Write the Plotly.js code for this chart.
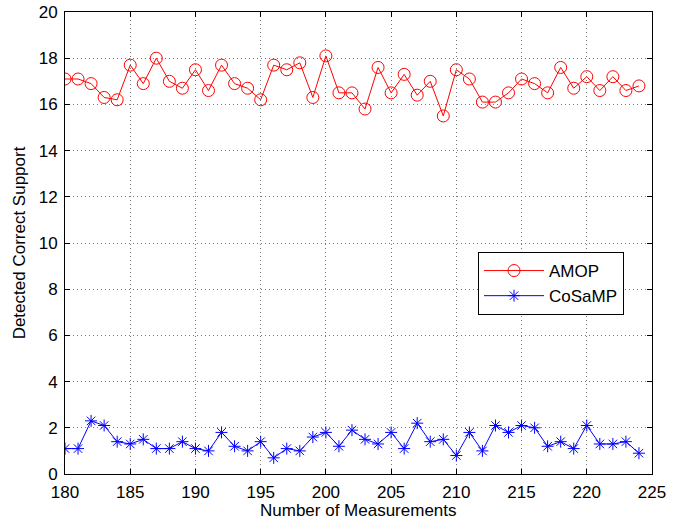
<!DOCTYPE html>
<html>
<head>
<meta charset="utf-8">
<script src="https://cdn.plot.ly/plotly-3.0.1.min.js"></script>
<style>html,body{margin:0;padding:0;background:#fff;}#chart{width:680px;height:519px;}</style>
</head>
<body>
<div id="chart"></div>
<script>
const measurements = [180,181,182,183,184,185,186,187,188,189,190,191,192,193,194,195,196,197,198,199,200,201,202,203,204,205,206,207,208,209,210,211,212,213,214,215,216,217,218,219,220,221,222,223,224];
const amop = [17.1,17.1,16.9,16.3,16.2,17.7,16.9,18.0,17.0,16.7,17.5,16.6,17.7,16.9,16.7,16.2,17.7,17.5,17.8,16.3,18.1,16.5,16.5,15.8,17.6,16.5,17.3,16.4,17.0,15.5,17.5,17.1,16.1,16.1,16.5,17.1,16.9,16.5,17.6,16.7,17.2,16.6,17.2,16.6,16.8];
const cosamp = [1.1,1.1,2.3,2.1,1.4,1.3,1.5,1.1,1.1,1.4,1.1,1.0,1.8,1.2,1.0,1.4,0.7,1.1,1.0,1.6,1.8,1.2,1.9,1.5,1.3,1.8,1.1,2.2,1.4,1.5,0.8,1.8,1.0,2.1,1.8,2.1,2.0,1.2,1.4,1.1,2.1,1.3,1.3,1.4,0.9];
const xTicks = [180,185,190,195,200,205,210,215,220,225];
const yTicks = [0,2,4,6,8,10,12,14,16,18,20];
const xTitle = 'Number of Measurements';
const yTitle = 'Detected Correct Support';

const family = 'Liberation Sans, Arial, sans-serif';
const tickFont = {family: family, size: 17, color: '#000'};
const titleFont = {family: family, size: 17, color: '#000'};
const legendFont = {family: family, size: 17, color: '#000'};

const traces = [
  {x: measurements, y: amop, name: 'AMOP', type: 'scatter', mode: 'lines+markers',
   line: {color: '#ff0000', width: 1},
   marker: {symbol: 'circle-open', size: 12, color: '#ff0000', line: {width: 1, color: '#ff0000'}}},
  {x: measurements, y: cosamp, name: 'CoSaMP', type: 'scatter', mode: 'lines+markers',
   line: {color: '#0000ff', width: 1},
   marker: {symbol: 'asterisk-open', size: 10, color: '#0000ff', line: {width: 1, color: '#0000ff'}}}
];

const axisCommon = {
  showline: true, linecolor: '#000', linewidth: 1, mirror: 'ticks',
  ticks: 'inside', ticklen: 5, tickcolor: '#000', tickwidth: 1,
  showgrid: true, gridcolor: '#777', gridwidth: 1, griddash: '1px,3px',
  zeroline: false, tickfont: tickFont
};

const layout = {
  width: 680, height: 519,
  margin: {l: 65, r: 28, t: 12, b: 45},
  paper_bgcolor: '#fff', plot_bgcolor: '#fff',
  font: titleFont,
  showlegend: true,
  legend: {x: 0.7036, y: 0.4805, xanchor: 'left', yanchor: 'top',
           bordercolor: '#000', borderwidth: 1, bgcolor: '#fff', font: legendFont,
           itemwidth: 60, tracegroupgap: 2},
  xaxis: Object.assign({}, axisCommon, {
    range: [180, 225], tickvals: xTicks, ticktext: xTicks.map(String),
    ticklabelstandoff: 3,
    title: {text: ''}
  }),
  yaxis: Object.assign({}, axisCommon, {
    range: [0, 20], tickvals: yTicks, ticktext: yTicks.map(String),
    ticklabelstandoff: 3,
    title: {text: yTitle, font: titleFont, standoff: 8}
  }),
  annotations: [
    {text: xTitle, xref: 'paper', yref: 'paper', x: 0.5, y: -0.078,
     xanchor: 'center', yanchor: 'middle', showarrow: false, font: titleFont}
  ]
};

Plotly.newPlot('chart', traces, layout, {displayModeBar: false, staticPlot: true});
</script>
</body>
</html>
